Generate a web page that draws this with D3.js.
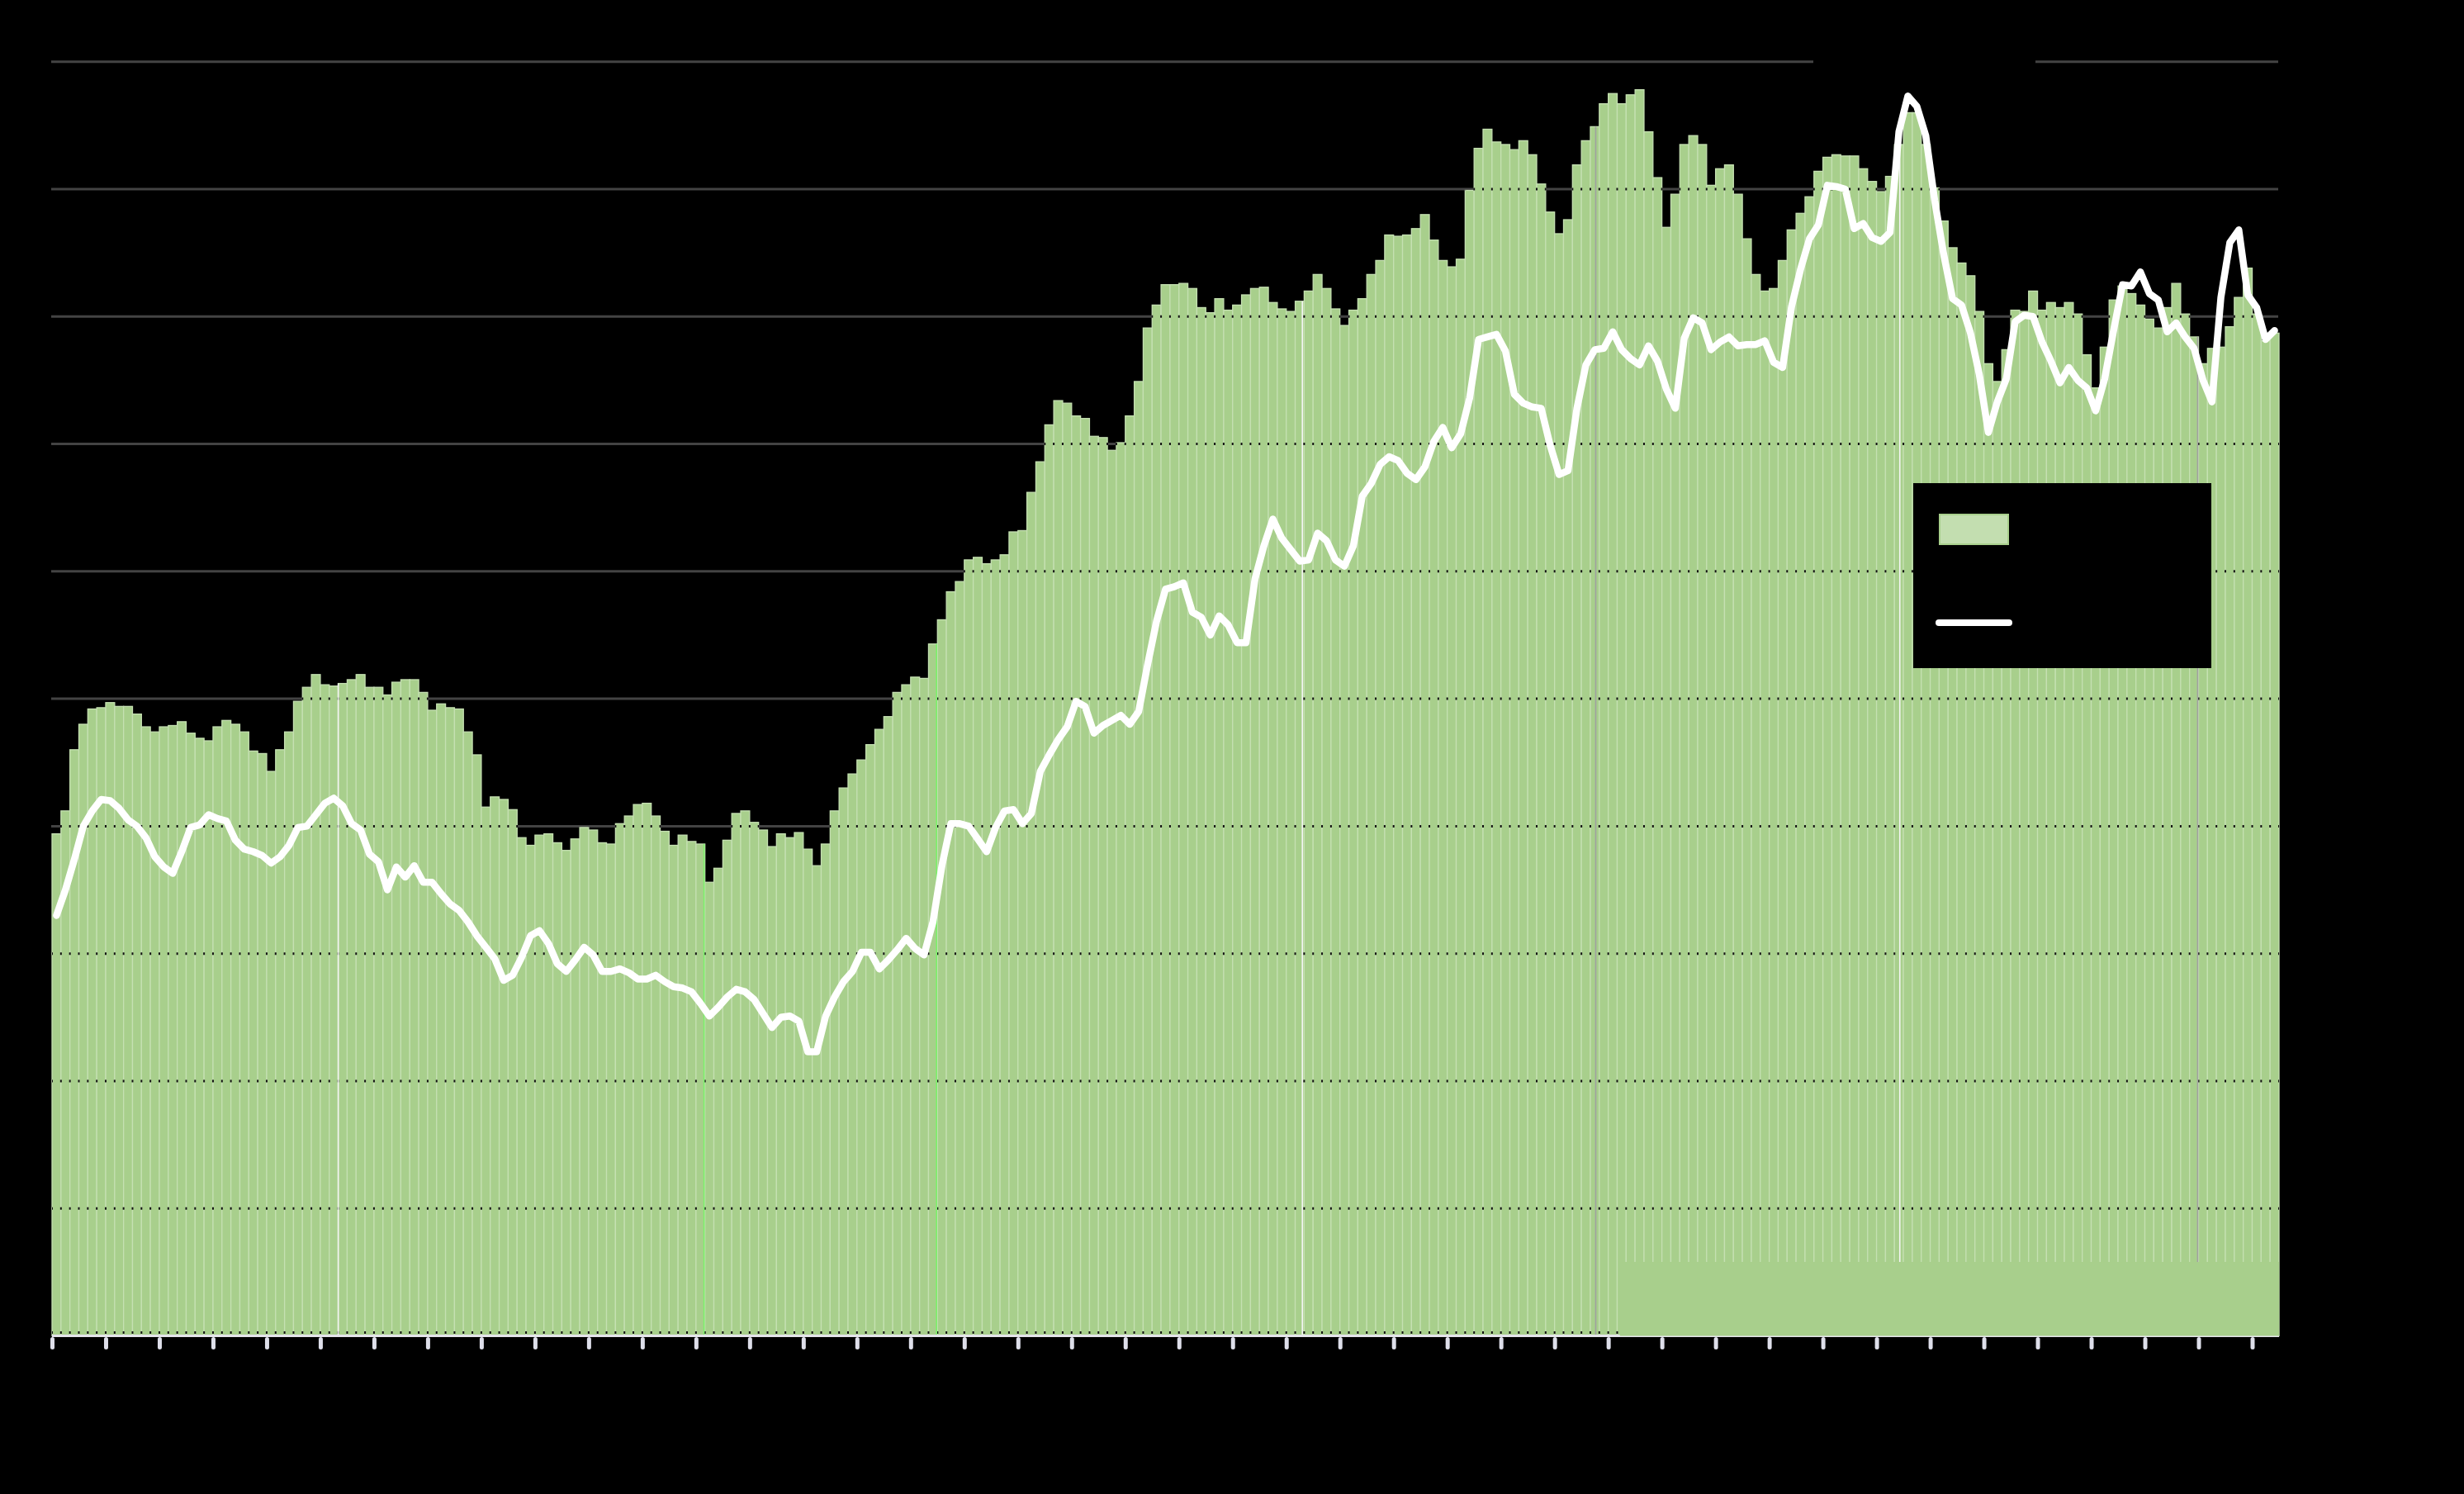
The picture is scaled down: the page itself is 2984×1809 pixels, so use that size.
<!DOCTYPE html>
<html>
<head>
<meta charset="utf-8">
<script src="https://cdn.jsdelivr.net/npm/d3@7"></script>
<style>
  html, body { margin: 0; padding: 0; background: #000; }
  svg { display: block; }
</style>
</head>
<body>
<div id="wrapper"></div>
<script>
// monthly bar values (left scale, 0-100)
const barValues = [
  39.4, 41.2, 46.0, 48.0, 49.2, 49.3, 49.7, 49.4, 49.4, 48.8,
  47.8, 47.4, 47.8, 47.9, 48.2, 47.3, 46.9, 46.7, 47.8, 48.3,
  48.0, 47.4, 45.9, 45.7, 44.3, 46.0, 47.4, 49.8, 50.9, 51.9,
  51.1, 51.0, 51.2, 51.5, 51.9, 50.9, 50.9, 50.3, 51.3, 51.5,
  51.5, 50.5, 49.1, 49.6, 49.3, 49.2, 47.4, 45.6, 41.5, 42.3,
  42.1, 41.3, 39.1, 38.5, 39.3, 39.4, 38.7, 38.1, 39.0, 39.9,
  39.7, 38.7, 38.6, 40.2, 40.8, 41.7, 41.8, 40.8, 39.6, 38.5,
  39.3, 38.8, 38.6, 35.6, 36.7, 38.9, 41.0, 41.2, 40.3, 39.7,
  38.4, 39.4, 39.1, 39.5, 38.2, 36.9, 38.6, 41.2, 43.0, 44.1,
  45.2, 46.4, 47.6, 48.6, 50.5, 51.1, 51.7, 51.6, 54.3, 56.2,
  58.4, 59.2, 60.9, 61.1, 60.6, 60.9, 61.3, 63.1, 63.2, 66.2,
  68.6, 71.5, 73.4, 73.2, 72.2, 72.0, 70.6, 70.5, 69.5, 70.1,
  72.2, 74.9, 79.1, 80.9, 82.5, 82.5, 82.6, 82.2, 80.7, 80.3,
  81.4, 80.5, 80.9, 81.7, 82.2, 82.3, 81.1, 80.6, 80.4, 81.2,
  82.0, 83.3, 82.2, 80.6, 79.3, 80.5, 81.4, 83.3, 84.4, 86.4,
  86.3, 86.4, 86.9, 88.0, 86.0, 84.4, 83.9, 84.5, 89.9, 93.2,
  94.7, 93.7, 93.5, 93.1, 93.8, 92.7, 90.4, 88.2, 86.5, 87.6,
  91.9, 93.8, 94.9, 96.7, 97.5, 96.7, 97.4, 97.8, 94.5, 90.9,
  87.0, 89.6, 93.5, 94.2, 93.5, 90.3, 91.6, 91.9, 89.6, 86.1,
  83.3, 82.0, 82.2, 84.4, 86.8, 88.1, 89.4, 91.4, 92.5, 92.7,
  92.6, 92.6, 91.6, 90.6, 89.8, 91.0, 93.5, 96.0, 96.0, 93.5,
  90.1, 87.5, 85.4, 84.2, 83.2, 80.4, 76.3, 74.9, 77.4, 80.5,
  80.4, 82.0, 80.5, 81.1, 80.7, 81.1, 80.2, 77.0, 74.4, 77.6,
  81.3, 82.4, 81.8, 80.9, 79.8, 79.1, 80.7, 82.6, 80.2, 78.4,
  76.3, 77.5, 77.6, 79.2, 81.5, 83.8, 80.2, 78.1, 78.7
]

// monthly line values (same scale)
const lineValues = [
  33.0, 35.0, 37.4, 40.0, 41.2, 42.1, 42.0, 41.4, 40.5, 40.0,
  39.1, 37.6, 36.8, 36.3, 38.0, 39.9, 40.1, 40.9, 40.6, 40.4,
  38.9, 38.2, 38.0, 37.7, 37.1, 37.6, 38.5, 39.9, 40.0, 40.9,
  41.8, 42.2, 41.6, 40.2, 39.7, 37.8, 37.2, 35.0, 36.8, 36.0,
  36.9, 35.6, 35.6, 34.7, 33.9, 33.4, 32.5, 31.4, 30.5, 29.6,
  27.9, 28.3, 29.7, 31.4, 31.8, 30.8, 29.2, 28.6, 29.5, 30.5,
  29.9, 28.6, 28.6, 28.8, 28.5, 28.0, 28.0, 28.3, 27.8, 27.4,
  27.3, 27.0, 26.1, 25.1, 25.8, 26.6, 27.2, 27.0, 26.4, 25.3,
  24.2, 25.0, 25.1, 24.7, 22.3, 22.3, 25.1, 26.6, 27.8, 28.6,
  30.1, 30.1, 28.8, 29.5, 30.3, 31.2, 30.4, 29.9, 32.5, 36.9,
  40.2, 40.2, 40.0, 39.0, 38.0, 39.9, 41.2, 41.3, 40.2, 41.0,
  44.3, 45.6, 46.8, 47.8, 49.8, 49.4, 47.3, 47.9, 48.3, 48.7,
  48.0, 49.0, 52.7, 56.1, 58.6, 58.8, 59.1, 56.8, 56.4, 55.0,
  56.5, 55.8, 54.4, 54.4, 59.4, 62.0, 64.1, 62.6, 61.7, 60.8,
  60.9, 63.0, 62.4, 60.9, 60.4, 62.0, 65.9, 66.9, 68.4, 69.0,
  68.7, 67.7, 67.2, 68.2, 70.2, 71.3, 69.7, 70.8, 73.6, 78.2,
  78.4, 78.6, 77.3, 73.9, 73.2, 72.9, 72.8, 69.9, 67.6, 67.9,
  72.8, 76.2, 77.4, 77.5, 78.8, 77.4, 76.7, 76.2, 77.7, 76.5,
  74.3, 72.8, 78.3, 79.9, 79.5, 77.4, 78.0, 78.4, 77.7, 77.8,
  77.8, 78.1, 76.4, 76.0, 80.8, 83.7, 86.1, 87.2, 90.3, 90.2,
  90.0, 86.9, 87.3, 86.2, 85.9, 86.6, 94.5, 97.3, 96.5, 94.2,
  89.1, 84.9, 81.4, 80.9, 78.7, 75.4, 70.9, 73.3, 75.1, 79.6,
  80.1, 80.0, 78.0, 76.5, 74.8, 76.0, 75.0, 74.4, 72.6, 75.1,
  78.9, 82.5, 82.4, 83.5, 81.8, 81.3, 78.8, 79.5, 78.4, 77.5,
  75.0, 73.3, 81.5, 85.8, 86.8, 81.7, 80.7, 78.2, 78.9
]

const months = d3.range(barValues.length)
const yTicks = d3.range(0, 101, 10)
const xTicks = d3.range(0, months.length - 2, 6)

// odd-coloured bar seams seen in the picture (month boundary, colour)
const seams = [
  [32, "#f4f4f4"], [72.9, "#7cf06a"], [98.9, "#7cf06a"], [139.8, "#f4f4f4"],
  [172.6, "#a0a0a0"], [206.6, "#f4f4f4"], [239.9, "#a0a0a0"]
]

const dimensions = {
  width: 2984,
  height: 1809,
  margin: { top: 74.7, right: 224, bottom: 191.5, left: 63 },
}
dimensions.boundedWidth = dimensions.width - dimensions.margin.left - dimensions.margin.right
dimensions.boundedHeight = dimensions.height - dimensions.margin.top - dimensions.margin.bottom

const green = "#a8cf8c"
const seam = "#c5e0b2"

const svg = d3.select("#wrapper")
  .append("svg")
  .attr("width", dimensions.width)
  .attr("height", dimensions.height)

svg.append("rect")
  .attr("width", dimensions.width)
  .attr("height", dimensions.height)
  .attr("fill", "#000")

const x0 = dimensions.margin.left
const x1 = dimensions.margin.left + dimensions.boundedWidth
const yBase = dimensions.margin.top + dimensions.boundedHeight

const xScale = d3.scaleBand()
  .domain(months)
  .range([x0, x1])
  .padding(0)
const xIndex = d3.scaleLinear()
  .domain([0, months.length])
  .range([x0, x1])
const yScale = d3.scaleLinear()
  .domain([0, 100])
  .range([yBase, dimensions.margin.top])
const bw = xScale.bandwidth()

// gridlines
svg.append("g")
  .selectAll("line")
  .data(yTicks.slice(1))
  .join("line")
  .attr("x1", x0 - 1)
  .attr("x2", x1 - 1)
  .attr("y1", d => yScale(d))
  .attr("y2", d => yScale(d))
  .attr("stroke", "#434343")
  .attr("stroke-width", 3)

// bars
svg.append("g")
  .selectAll("rect")
  .data(months)
  .join("rect")
  .attr("x", i => xScale(i))
  .attr("y", i => yScale(barValues[i]))
  .attr("width", bw)
  .attr("height", i => yBase - yScale(barValues[i]))
  .attr("fill", green)
  .attr("stroke", seam)
  .attr("stroke-width", 1.3)

// gridline dots where the grid shows between bars
const clip = svg.append("clipPath").attr("id", "barsClip")
clip.selectAll("rect")
  .data(months)
  .join("rect")
  .attr("x", i => xScale(i) - 1)
  .attr("y", i => yScale(barValues[i]))
  .attr("width", bw + 2)
  .attr("height", i => yBase - yScale(barValues[i]))

svg.append("g")
  .attr("clip-path", "url(#barsClip)")
  .selectAll("line")
  .data(yTicks)
  .join("line")
  .attr("x1", x0)
  .attr("x2", x1)
  .attr("y1", d => yScale(d) - (d === 0 ? 4 : 0))
  .attr("y2", d => yScale(d) - (d === 0 ? 4 : 0))
  .attr("stroke", "#111")
  .attr("stroke-width", 3)
  .attr("stroke-dasharray", `2 ${bw - 2}`)
  .attr("stroke-dashoffset", 1)

// seams
svg.append("g")
  .selectAll("line")
  .data(seams)
  .join("line")
  .attr("x1", d => xIndex(d[0]))
  .attr("x2", d => xIndex(d[0]))
  .attr("y1", yBase)
  .attr("y2", d => yScale(barValues[Math.floor(d[0])]))
  .attr("stroke", d => d[1])
  .attr("stroke-width", 1.6)

// x axis
const xAxis = d3.axisBottom(xIndex)
  .tickValues(xTicks)
  .tickSize(14)
  .tickFormat("")
svg.append("g")
  .attr("class", "x-axis")
  .attr("transform", `translate(0, ${yBase})`)
  .call(xAxis)
  .call(g => g.select(".domain").remove())
  .call(g => g.selectAll(".tick line")
    .attr("stroke", "#dedfea")
    .attr("stroke-width", 5)
    .attr("y1", 4)
    .attr("stroke-linecap", "round"))

svg.append("line")
  .attr("x1", x0)
  .attr("x2", x1)
  .attr("y1", yBase)
  .attr("y2", yBase)
  .attr("stroke", "#e4e4ea")
  .attr("stroke-width", 3)

// green panel at bottom right
svg.append("rect")
  .attr("x", xIndex(175.3))
  .attr("y", yScale(5.8))
  .attr("width", x1 - xIndex(175.3))
  .attr("height", yBase - yScale(5.8))
  .attr("fill", green)

// line
svg.append("path")
  .datum(months)
  .attr("fill", "none")
  .attr("stroke", "#fff")
  .attr("stroke-width", 8.5)
  .attr("stroke-linejoin", "round")
  .attr("stroke-linecap", "round")
  .attr("d", d3.line()
    .x(i => xScale(i) + bw / 2)
    .y(i => yScale(lineValues[i])))

// black box breaking the top gridline
svg.append("rect")
  .attr("x", 2196)
  .attr("y", 50)
  .attr("width", 269)
  .attr("height", 50)
  .attr("fill", "#000")

// legend
const legend = svg.append("g")
  .attr("transform", "translate(2317, 585)")
legend.append("rect")
  .attr("width", 361)
  .attr("height", 224)
  .attr("fill", "#000")
legend.append("rect")
  .attr("x", 32)
  .attr("y", 38)
  .attr("width", 83)
  .attr("height", 36)
  .attr("fill", "#c3deb0")
  .attr("stroke", green)
  .attr("stroke-width", 2)
legend.append("line")
  .attr("x1", 31)
  .attr("x2", 116)
  .attr("y1", 169)
  .attr("y2", 169)
  .attr("stroke", "#fff")
  .attr("stroke-width", 8)
  .attr("stroke-linecap", "round")
</script>
</body>
</html>
